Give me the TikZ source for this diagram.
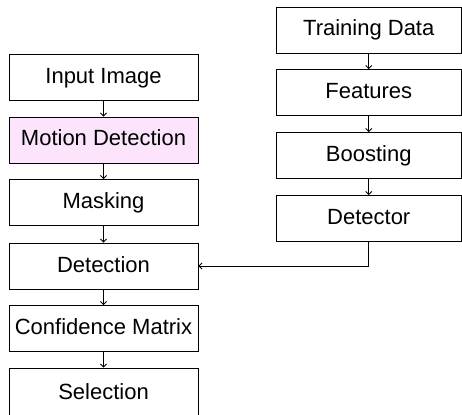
\documentclass[tikz,border=0pt]{standalone}
\usepackage{fontspec}
\setmainfont{Liberation Sans}
\usetikzlibrary{arrows.meta}
\definecolor{pinkfill}{RGB}{252,228,252}
\begin{document}
\begin{tikzpicture}[x=1pt,y=-1pt,
  box/.style={draw=black, line width=0.9pt, fill=white, inner sep=0pt, minimum height=46pt,
    text height=16pt, text depth=4pt, font=\fontsize{22}{26}\selectfont},
  lbox/.style={box, minimum width=189pt},
  rbox/.style={box, minimum width=185.5pt},
  conn/.style={draw=black, line width=0.8pt, -{Straight Barb[length=3pt,width=6pt]}}]
\useasboundingbox (0,0) rectangle (462,414);
\node[lbox] (inp) at (103.5,77.5) {Input Image};
\node[lbox, fill=pinkfill] (mot) at (103.5,140) {Motion Detection};
\node[lbox] (mask) at (103.5,202.5) {Masking};
\node[lbox] (det) at (103.5,266) {Detection};
\node[lbox] (conf) at (103.5,328.5) {Confidence Matrix};
\node[lbox, minimum height=50pt] (sel) at (103.5,393) {Selection};
\node[rbox] (train) at (368.75,30) {Training Data};
\node[rbox] (feat) at (368.75,92.5) {Features};
\node[rbox] (boost) at (368.75,155.5) {Boosting};
\node[rbox] (dtr) at (368.75,218.5) {Detector};
\draw[conn] (inp) -- (mot);
\draw[conn] (mot) -- (mask);
\draw[conn] (mask) -- (det);
\draw[conn] (det) -- (conf);
\draw[conn] (conf) -- (sel);
\draw[conn] (train) -- (feat);
\draw[conn] (feat) -- (boost);
\draw[conn] (boost) -- (dtr);
\draw[conn] (dtr.south) |- (det.east);
\end{tikzpicture}
\end{document}
